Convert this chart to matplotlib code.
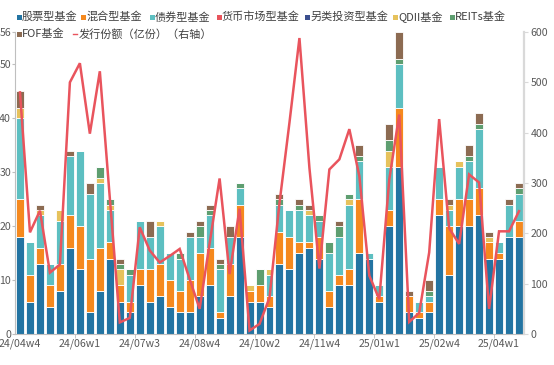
import matplotlib.pyplot as plt
import numpy as np
from matplotlib.patches import Rectangle
from matplotlib.lines import Line2D

plt.rcParams['font.family'] = ['Noto Sans CJK SC', 'DejaVu Sans']

weeks = ["24/04w4", "24/05w1", "24/05w2", "24/05w3", "24/05w4", "24/05w5",
         "24/06w1", "24/06w2", "24/06w3", "24/06w4", "24/07w1", "24/07w2",
         "24/07w3", "24/07w4", "24/07w5", "24/08w1", "24/08w2", "24/08w3",
         "24/08w4", "24/09w1", "24/09w2", "24/09w3", "24/09w4", "24/10w1",
         "24/10w2", "24/10w3", "24/10w4", "24/11w1", "24/11w2", "24/11w3",
         "24/11w4", "24/12w1", "24/12w2", "24/12w3", "24/12w4", "24/12w5",
         "25/01w1", "25/01w2", "25/01w3", "25/01w4", "25/02w2", "25/02w3",
         "25/02w4", "25/03w1", "25/03w2", "25/03w3", "25/03w4", "25/03w5",
         "25/04w1", "25/04w2", "25/04w3"]

# 新发基金数量（只）
stock = [18, 6, 13, 5, 8, 16, 12, 4, 8, 14, 6, 4, 9, 6, 7, 5, 4, 4, 7, 9, 3, 7, 18, 6, 6,
         5, 13, 12, 15, 16, 14, 5, 9, 9, 15, 14, 6, 20, 31, 4, 3, 4, 22, 11, 20, 20, 22, 14, 14, 18, 18]
mixed = [7, 5, 3, 4, 5, 6, 8, 10, 8, 3, 3, 2, 3, 6, 6, 5, 4, 6, 8, 7, 1, 6, 6, 2, 3,
         2, 6, 6, 2, 1, 4, 3, 2, 3, 10, 0, 1, 3, 11, 3, 1, 2, 3, 9, 5, 5, 5, 3, 1, 0, 3]
bond = [15, 6, 6, 4, 8, 11, 14, 12, 12, 6, 0, 5, 9, 6, 7, 5, 6, 8, 3, 6, 8, 5, 3, 0, 0,
        4, 5, 5, 6, 5, 3, 7, 7, 12, 7, 1, 2, 8, 8, 0, 2, 1, 6, 3, 6, 7, 11, 0, 2, 6, 5]
money = [0] * 51
alt = [0] * 51
qdii = [2, 0, 1, 0, 2, 0, 0, 0, 1, 1, 3, 0, 0, 0, 1, 0, 0, 0, 0, 0, 0, 0, 0, 1, 0,
        1, 0, 0, 0, 1, 0, 0, 0, 1, 0, 0, 0, 3, 0, 0, 0, 0, 0, 1, 1, 0, 0, 1, 0, 0, 0]
reits = [0, 0, 0, 0, 0, 0, 0, 0, 2, 1, 1, 1, 0, 0, 0, 0, 1, 0, 2, 1, 1, 0, 1, 0, 3,
         0, 1, 0, 1, 0, 1, 2, 2, 1, 1, 0, 0, 2, 1, 0, 0, 1, 0, 0, 0, 1, 1, 0, 0, 0, 1]
fof = [3, 0, 1, 0, 0, 1, 0, 2, 0, 0, 1, 0, 0, 3, 0, 0, 0, 1, 1, 1, 1, 2, 0, 0, 0,
       0, 1, 0, 1, 1, 0, 0, 1, 0, 2, 0, 0, 3, 5, 1, 0, 2, 0, 1, 0, 2, 2, 1, 0, 1, 1]
# 发行份额（亿份）
shares = [480, 202, 245, 122, 138, 500, 538, 398, 522, 270, 23, 32, 212, 166, 142, 155, 169,
          109, 50, 180, 309, 119, 249, 7, 20, 72, 260, 420, 588, 330, 130, 327, 347, 407,
          314, 116, 69, 307, 436, 24, 42, 162, 427, 210, 179, 317, 301, 50, 204, 204, 244]

series = [("股票型基金", stock, "#2374A2"),
          ("混合型基金", mixed, "#F5891E"),
          ("债券型基金", bond, "#5DBFC1"),
          ("货币市场型基金", money, "#E8545C"),
          ("另类投资型基金", alt, "#3B4F8E"),
          ("QDII基金", qdii, "#E6C25C"),
          ("REITs基金", reits, "#5E9E70"),
          ("FOF基金", fof, "#8C6B52")]
line_name = "发行份额（亿份）（右轴）"
line_color = "#E9545D"

W, H = 554, 365
fig = plt.figure(figsize=(W / 100, H / 100), dpi=100)
ax = fig.add_axes([15 / W, 1 - 334 / H, (524 - 15) / W, (334 - 32) / H])
ax2 = ax.twinx()

x = np.arange(len(weeks))
bottom = np.zeros(len(weeks))
for name, vals, col in series:
    v = np.array(vals, dtype=float)
    ax.bar(x, v, 0.8, bottom=bottom, color=col, edgecolor="white", linewidth=0.6)
    bottom += v

ax2.plot(x, shares, color=line_color, lw=1.8, solid_joinstyle="miter")

ax.set_xlim(-0.5, len(weeks) - 0.5)
ax.set_ylim(0, 56)
ax2.set_ylim(0, 600)
ax.set_yticks([0, 10, 20, 30, 40, 50, 56])
ax2.set_yticks(range(0, 601, 100))

lab_idx = list(range(0, len(weeks), 6))
ax.set_xticks(lab_idx)
ax.set_xticklabels([weeks[i] for i in lab_idx])
ax.set_xticks([i - 0.5 for i in lab_idx[1:]], minor=True)

for a in (ax, ax2):
    a.spines["top"].set_visible(False)
ax.spines["right"].set_visible(False)
ax2.spines["left"].set_visible(False)
ax2.spines["bottom"].set_visible(False)
ax.spines["left"].set_color("#BFBFBF")
ax.spines["left"].set_linewidth(0.8)
ax.spines["bottom"].set_color("#BFBFBF")
ax.spines["bottom"].set_linewidth(0.8)
ax2.spines["right"].set_color("#D9D9D9")
ax2.spines["right"].set_linewidth(1.6)

ax.tick_params(axis="y", length=2, color="#BFBFBF", labelsize=7.6, labelcolor="#595959", pad=0.8)
ax2.tick_params(axis="y", length=3, color="#D9D9D9", labelsize=7.6, labelcolor="#595959", pad=1.5)
ax.tick_params(axis="x", which="major", length=0, labelsize=7.6, labelcolor="#595959", pad=3.5)
ax.tick_params(axis="x", which="minor", length=3, color="#BFBFBF")

# 图例（两行，手动排版）
def px(xp, yp):
    return xp / W, 1 - yp / H

legend_pos = [(17, 17), (81, 17), (150, 17), (217, 17), (305, 17), (393, 17), (450, 17), (17, 34)]
for (name, vals, col), (lx, ly) in zip(series, legend_pos):
    fx, fy = px(lx, ly + 2.5)
    fig.add_artist(Rectangle((fx, fy), 4.5 / W, 4.5 / H, transform=fig.transFigure,
                             color=col, lw=0))
    tx, ty = px(lx + 5, ly)
    fig.text(tx, ty, name, fontsize=8, color="#404040", va="center", ha="left")

x0, y0 = px(73, 34)
x1, _ = px(77, 34)
fig.add_artist(Line2D([x0, x1], [y0, y0], color=line_color, lw=1, transform=fig.transFigure))
tx, ty = px(79, 34)
fig.text(tx, ty, line_name, fontsize=8, color="#404040", va="center", ha="left")

fig.savefig("out.png", dpi=100)
